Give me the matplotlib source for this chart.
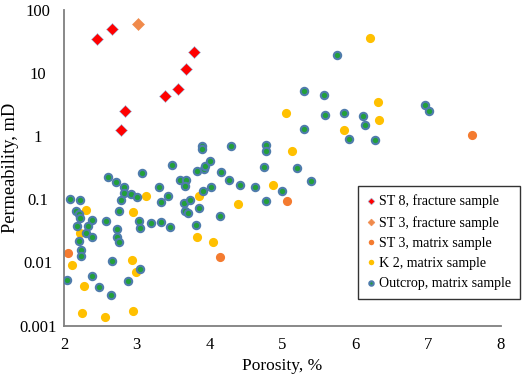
import numpy as np
import matplotlib
matplotlib.use("Agg")
import matplotlib.pyplot as plt

plt.rcParams['font.family'] = ['Liberation Serif', 'DejaVu Serif']

# ST 8, fracture sample
st8_frac_x = [2.46, 2.66, 3.79, 3.67, 3.57, 3.39, 2.84, 2.78]
st8_frac_y = [34.2, 50.6, 21.5, 11.7, 5.54, 4.40, 2.51, 1.27]

# ST 3, fracture sample
st3_frac_x = [3.01]
st3_frac_y = [60.0]

# ST 3, matrix sample
st3_mat_x = [2.06, 4.14, 5.07, 7.60]
st3_mat_y = [0.0139, 0.0121, 0.093, 1.04]

# K 2, matrix sample
k2_x = [2.30, 2.22, 2.11, 2.28, 2.25, 2.57, 2.95, 2.93, 2.99, 2.95, 3.12,
        3.83, 3.86, 4.05, 4.39, 4.87, 5.05, 5.13, 5.84, 6.20, 6.31, 6.33]
k2_y = [0.0684, 0.0288, 0.00903, 0.00424, 0.00157, 0.00138, 0.00169, 0.0108,
        0.00717, 0.0622, 0.112, 0.0249, 0.111, 0.0210, 0.0834, 0.167, 2.32,
        0.577, 1.24, 36.4, 3.44, 1.83]

# Outcrop, matrix sample
out_x = [2.08, 2.22, 2.17, 2.20, 2.22, 2.38, 2.18, 2.33, 2.30, 2.39, 2.20,
         2.23, 2.23, 2.04, 2.38, 2.48, 2.64,
         2.58, 2.61, 2.71, 2.82, 2.82, 2.92, 3.00, 3.07, 2.78, 2.75, 2.73,
         2.73, 2.75, 2.66, 2.88, 3.04, 3.03, 3.04, 3.20, 3.33, 3.30, 3.33,
         3.46, 3.43, 3.48,
         3.59, 3.67, 3.66, 3.65, 3.66, 3.71, 3.73, 3.83, 3.85, 3.81, 3.90,
         3.90, 3.92, 3.94, 4.01, 3.91, 4.02, 4.15, 4.14, 4.27, 4.29, 4.42,
         4.62, 4.78, 4.78, 4.75, 4.78, 5.00, 5.20, 5.30, 5.57, 5.59, 5.85,
         6.11, 6.14, 5.30, 5.92, 5.39, 5.75, 6.27, 6.96, 7.01]
out_y = [0.0994, 0.0966, 0.0653, 0.0578, 0.0499, 0.0469, 0.0384, 0.0377,
         0.0288, 0.0256, 0.0217, 0.0160, 0.0128, 0.00521, 0.00608, 0.00404,
         0.00301,
         0.0453, 0.222, 0.189, 0.157, 0.128, 0.120, 0.109, 0.259, 0.0966,
         0.0653, 0.0337, 0.0255, 0.0210, 0.0106, 0.00515, 0.00788, 0.0453,
         0.0354, 0.0421, 0.0441, 0.154, 0.0897, 0.0370, 0.113, 0.352,
         0.205, 0.205, 0.160, 0.0875, 0.0653, 0.0613, 0.0969, 0.282, 0.0728,
         0.0391, 0.692, 0.632, 0.298, 0.339, 0.407, 0.136, 0.157, 0.272,
         0.0543, 0.203, 0.687, 0.167, 0.157, 0.713, 0.577, 0.327, 0.0924,
         0.133, 0.309, 5.28, 4.56, 2.15, 2.36, 2.12, 1.52, 1.30, 0.895, 0.198,
         19.5, 0.879, 3.13, 2.54]

y_ticks = [0.001, 0.01, 0.1, 1, 10, 100]
y_labels = ['0.001', '0.01', '0.1', '1', '10', '100']
x_ticks = [2, 3, 4, 5, 6, 7, 8]

fig = plt.figure(figsize=(5.26, 3.76), dpi=100)
ax = fig.add_axes([64 / 526, 1 - 325.5 / 376, 436.8 / 526, 315.5 / 376])

h_k2, = ax.plot(k2_x, k2_y, 'o', ms=6.6, color='#FFC000', mec='#FFC000',
                mew=0, zorder=2, label='K 2, matrix sample')
h_st3m, = ax.plot(st3_mat_x, st3_mat_y, 'o', ms=6.6, color='#F47B30',
                  mew=0, zorder=2, label='ST 3, matrix sample')
h_out, = ax.plot(out_x, out_y, 'o', ms=5.3, color='#22A03A', mec='#4F7CAC',
                 mew=1.5, zorder=3, label='Outcrop, matrix sample')
h_st8, = ax.plot(st8_frac_x, st8_frac_y, 'D', ms=5.8, color='#FF0000',
                 mec='#9DC3E6', mew=0.4, zorder=4, label='ST 8, fracture sample')
h_st3f, = ax.plot(st3_frac_x, st3_frac_y, 'D', ms=5.8, color='#F08A4B',
                  mec='#F08A4B', mew=0.4, zorder=4, label='ST 3, fracture sample')

ax.set_yscale('log')
ax.set_xlim(2, 8)
ax.set_ylim(0.001, 100)
ax.set_yticks(y_ticks)
ax.set_yticklabels(y_labels)
ax.yaxis.set_minor_locator(matplotlib.ticker.NullLocator())
ax.set_xticks(x_ticks)
for t in ax.get_yticklabels():
    t.set_horizontalalignment('center')
ax.tick_params(axis='y', length=0, pad=19, labelsize=12)
ax.tick_params(axis='x', length=0, pad=8, labelsize=12)

for s in ['top', 'right']:
    ax.spines[s].set_visible(False)
for s in ['left', 'bottom']:
    ax.spines[s].set_color('#7f7f7f')
    ax.spines[s].set_linewidth(1.3)

ax.set_xlabel('Porosity, %', fontsize=12.5, labelpad=4)
ax.set_ylabel('Permeability, mD', fontsize=13.2, labelpad=0)

leg = fig.legend(handles=[h_st8, h_st3f, h_st3m, h_k2, h_out],
                 loc='upper left', bbox_to_anchor=(358 / 526, 1 - 186 / 376),
                 fontsize=10.1, frameon=True, fancybox=False, edgecolor='black',
                 markerscale=0.6, handlelength=0.6, handletextpad=0.3,
                 labelspacing=0.52, borderpad=0.62, borderaxespad=0)
leg.get_frame().set_linewidth(1.0)

fig.savefig('out.png', dpi=100)
